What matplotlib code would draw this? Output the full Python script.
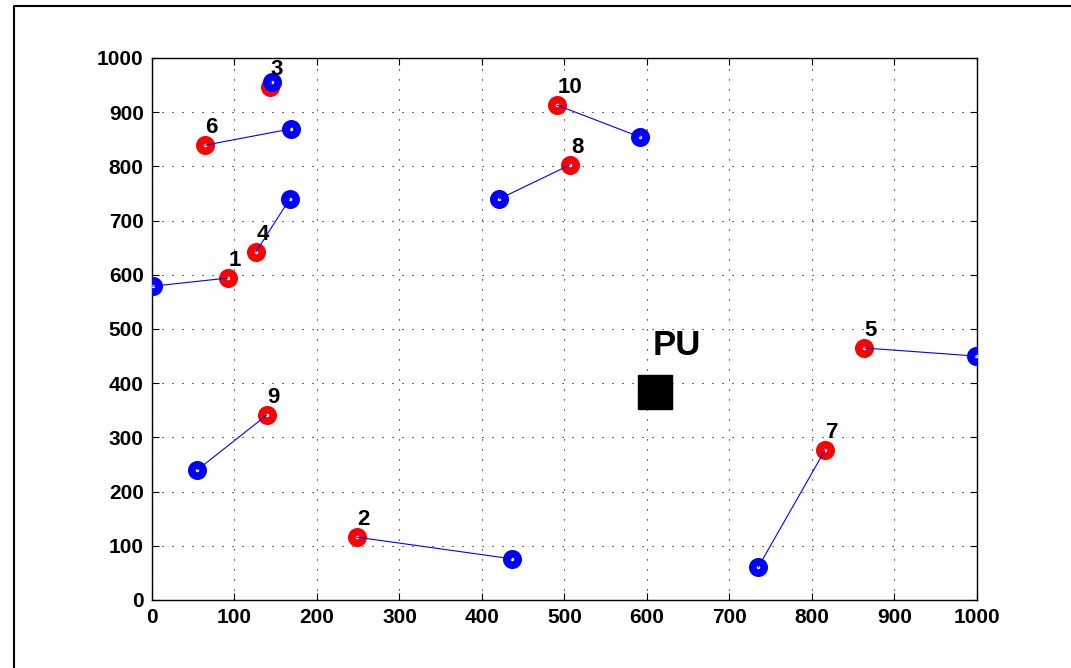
import numpy as np
import matplotlib
matplotlib.use('Agg')
import matplotlib.pyplot as plt
from matplotlib.lines import Line2D

plt.rcParams['font.family'] = ['Liberation Sans', 'DejaVu Sans']
plt.rcParams['font.weight'] = 'bold'

# node positions (transmitter = red, receiver = blue)
ids = [1, 2, 3, 4, 5, 6, 7, 8, 9, 10]
tx_x = [92, 248, 143, 126, 863, 64, 816, 507, 139, 491]
tx_y = [594, 116, 947, 642, 465, 839, 277, 803, 341, 913]
rx_x = [1, 436, 145, 167, 999, 168, 735, 421, 55, 592]
rx_y = [579, 76, 956, 740, 450, 869, 61, 740, 240, 854]

pu_x, pu_y = 610, 384

fig = plt.figure(figsize=(10.71, 6.68), dpi=100)
ax = fig.add_axes([0.1419, 0.1018, 0.7703, 0.8114])

for i in range(len(ids)):
    ax.plot(tx_x[i], tx_y[i], 'o', ms=8.2, mew=5.5, mec='red', mfc='white', zorder=3)
    ax.plot(rx_x[i], rx_y[i], 'o', ms=8.2, mew=5.5, mec='blue', mfc='white', zorder=4)
    ax.plot([tx_x[i], rx_x[i]], [tx_y[i], rx_y[i]], '-', color='blue', lw=0.8, zorder=5)
    ax.text(tx_x[i] + 1, tx_y[i] + 13, str(ids[i]), fontsize=16, ha='left', va='bottom', zorder=6)

ax.plot(pu_x, pu_y, 's', ms=24, color='black')
ax.text(pu_x + 26, pu_y + 55, 'PU', fontsize=25, ha='center', va='bottom')

ax.set_xlim(0, 1000)
ax.set_ylim(0, 1000)
ax.set_xticks(np.arange(0, 1001, 100))
ax.set_yticks(np.arange(0, 1001, 100))
ax.tick_params(direction='in', top=True, right=True, length=5, labelsize=15, pad=6)
ax.grid(True, color='black', linestyle=(0, (1, 8)), lw=0.8)
for s in ax.spines.values():
    s.set_linewidth(1.0)

# outer figure frame
fig.add_artist(Line2D([0.0131, 0.0131, 1.01], [-0.01, 0.991, 0.991], color='black', lw=1.5))

fig.savefig('out.png', dpi=100)
